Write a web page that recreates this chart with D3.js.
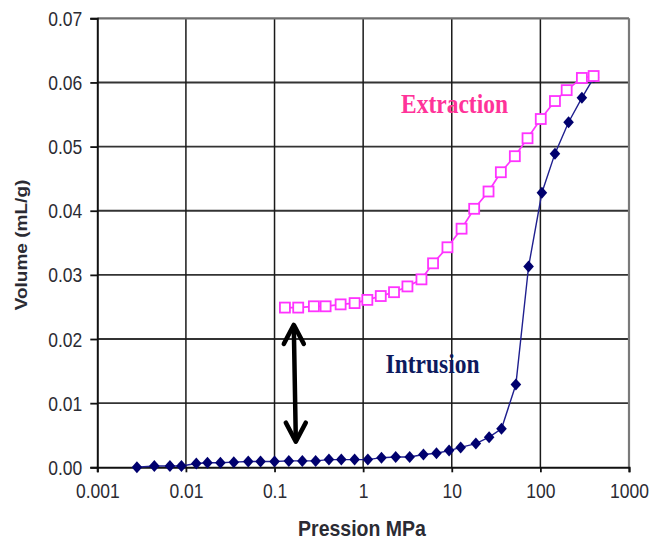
<!DOCTYPE html>
<html>
<head>
<meta charset="utf-8">
<script src="https://cdn.jsdelivr.net/npm/d3@7"></script>
<style>
  html, body { margin: 0; padding: 0; background: #fff; }
  svg { display: block; }
</style>
</head>
<body>
<div id="chart"></div>
<script>
// ---- data ----
const intrusionP = [0.0028, 0.0044, 0.0066, 0.0089, 0.0131, 0.0175, 0.0245, 0.0347, 0.0505, 0.0695,
  0.100, 0.145, 0.206, 0.291, 0.411, 0.567, 0.801, 1.13, 1.61, 2.33,
  3.35, 4.79, 6.72, 9.33, 12.6, 18.7, 26.4, 36.4, 52.9, 73.6,
  104, 146, 208, 294, 402];
const intrusionV = [0.0000, 0.0002, 0.0002, 0.0002, 0.0006, 0.0007, 0.0007, 0.0008, 0.0009, 0.0009,
  0.0009, 0.0010, 0.0010, 0.0010, 0.0012, 0.0012, 0.0012, 0.0012, 0.0015, 0.0016,
  0.0016, 0.0020, 0.0022, 0.0026, 0.0031, 0.0037, 0.0047, 0.0060, 0.0129, 0.0313,
  0.0428, 0.0489, 0.0538, 0.0576, 0.0608];

const extractionP = [0.131, 0.185, 0.278, 0.377, 0.557, 0.801, 1.115, 1.58, 2.23, 3.16,
  4.55, 6.15, 8.94, 12.9, 17.9, 26.0, 35.8, 51.5, 71.6, 101,
  146, 198, 294, 399];
const extractionV = [0.0249, 0.0249, 0.0251, 0.0251, 0.0254, 0.0256, 0.0261, 0.0267, 0.0273, 0.0282,
  0.0293, 0.0318, 0.0343, 0.0372, 0.0403, 0.0430, 0.0460, 0.0485, 0.0513, 0.0543,
  0.0571, 0.0588, 0.0607, 0.0610];

const xTicks = [0.001, 0.01, 0.1, 1, 10, 100, 1000];
const xTickLabels = ["0.001", "0.01", "0.1", "1", "10", "100", "1000"];
const yTicks = [0, 0.01, 0.02, 0.03, 0.04, 0.05, 0.06, 0.07];
const yTickLabels = ["0.00", "0.01", "0.02", "0.03", "0.04", "0.05", "0.06", "0.07"];

const arrowP = 0.165;
const arrowV = [0.0222, 0.0040];

// ---- layout ----
const W = 651, H = 545;
const svg = d3.select("#chart").append("svg").attr("width", W).attr("height", H);
svg.append("rect").attr("width", W).attr("height", H).attr("fill", "#fff");

const x = d3.scaleLog().domain([0.001, 1000]).range([97.3, 629]);
const y = d3.scaleLinear().domain([0, 0.07]).range([467.3, 18.3]);
const SY = 1.12; // vertical stretch of the source picture's text

// grid
const g = svg.append("g");
g.selectAll("line.hg").data(yTicks.slice(1, -1)).enter().append("line")
  .attr("x1", x(0.001)).attr("x2", x(1000))
  .attr("y1", d => y(d)).attr("y2", d => y(d))
  .attr("stroke", "#333").attr("stroke-width", 1.9);
g.selectAll("line.vg").data(xTicks.slice(1, -1)).enter().append("line")
  .attr("y1", y(0.07)).attr("y2", y(0))
  .attr("x1", d => x(d)).attr("x2", d => x(d))
  .attr("stroke", "#1a1a1a").attr("stroke-width", 1.5);
// top & right border (grey)
g.append("line").attr("x1", x(0.001)).attr("x2", x(1000)).attr("y1", y(0.07)).attr("y2", y(0.07))
  .attr("stroke", "#6e6e6e").attr("stroke-width", 2.2);
g.append("line").attr("x1", x(1000)).attr("x2", x(1000)).attr("y1", y(0.07)).attr("y2", y(0))
  .attr("stroke", "#7a7a7a").attr("stroke-width", 2.2);

// axes
const yAxis = d3.axisLeft(y).tickValues(yTicks).tickFormat((d, i) => yTickLabels[i]).tickSize(7).tickPadding(8);
const xAxis = d3.axisBottom(x).tickValues(xTicks).tickFormat((d, i) => xTickLabels[i]).tickSize(5).tickPadding(10);

const ya = svg.append("g").attr("transform", `translate(${x(0.001)},0)`).call(yAxis);
const xa = svg.append("g").attr("transform", `translate(0,${y(0)})`).call(xAxis);
[ya, xa].forEach(a => {
  a.select(".domain").attr("stroke", "#111").attr("stroke-width", 2);
  a.selectAll(".tick line").attr("stroke", "#111").attr("stroke-width", 1.8);
  a.selectAll(".tick text").attr("font-family", "'Liberation Sans', Arial, sans-serif")
    .attr("font-size", 17.5).attr("fill", "#2b2b33");
});
ya.selectAll(".tick text").attr("dy", "0.36em").attr("transform", `scale(1,${SY})`);
xa.selectAll(".tick text").attr("dy", "0.71em").attr("transform", `scale(1,${SY})`);

// axis titles
svg.append("text")
  .attr("transform", `translate(362,536) scale(1,${SY})`)
  .attr("text-anchor", "middle")
  .attr("font-family", "'Liberation Sans', Arial, sans-serif")
  .attr("font-weight", "bold").attr("font-size", 19.5).attr("fill", "#2b2b33")
  .text("Pression MPa");
svg.append("text")
  .attr("transform", `translate(27,245) scale(1,${SY}) rotate(-90)`)
  .attr("text-anchor", "middle")
  .attr("font-family", "'Liberation Sans', Arial, sans-serif")
  .attr("font-weight", "bold").attr("font-size", 17).attr("fill", "#2b2b33")
  .text("Volume (mL/g)");

// series
const intr = intrusionP.map((p, i) => [p, intrusionV[i]]);
const extr = extractionP.map((p, i) => [p, extractionV[i]]);
const line = d3.line().x(d => x(d[0])).y(d => y(d[1]));

svg.append("path").datum(extr).attr("d", line).attr("fill", "none")
  .attr("stroke", "#ff33ff").attr("stroke-width", 1.7);
svg.append("path").datum(intr).attr("d", line).attr("fill", "none")
  .attr("stroke", "#1f1f8f").attr("stroke-width", 1.4);

svg.selectAll("path.dia").data(intr).enter().append("path")
  .attr("transform", d => `translate(${x(d[0])},${y(d[1])})`)
  .attr("d", "M0,-6L5.3,0L0,6L-5.3,0Z")
  .attr("fill", "#00006e");

svg.selectAll("rect.sq").data(extr).enter().append("rect")
  .attr("x", d => x(d[0]) - 5).attr("y", d => y(d[1]) - 5)
  .attr("width", 10).attr("height", 10)
  .attr("fill", "#fff").attr("stroke", "#ff33ff").attr("stroke-width", 1.8);

// labels
svg.append("text")
  .attr("transform", `translate(454.5,113) scale(1,${SY})`)
  .attr("text-anchor", "middle")
  .attr("font-family", "'Liberation Serif', 'Times New Roman', serif")
  .attr("font-weight", "bold").attr("font-size", 23.5).attr("fill", "#ff3399")
  .text("Extraction");
svg.append("text")
  .attr("transform", `translate(432.5,373) scale(1,${SY})`)
  .attr("text-anchor", "middle")
  .attr("font-family", "'Liberation Serif', 'Times New Roman', serif")
  .attr("font-weight", "bold").attr("font-size", 23.5).attr("fill", "#0d1a5e")
  .text("Intrusion");

// double-headed arrow
const ax = x(arrowP), ay1 = y(arrowV[0]), ay2 = y(arrowV[1]);
const aw = 10, ah = 19;
const arrowG = svg.append("g").attr("stroke", "#000").attr("stroke-width", 4.5)
  .attr("fill", "none").attr("stroke-linecap", "round").attr("stroke-linejoin", "round");
arrowG.append("line").attr("x1", ax).attr("x2", ax + 2).attr("y1", ay1 + 2).attr("y2", ay2 - 2);
arrowG.append("path").attr("d", `M${ax - aw},${ay1 + ah}L${ax},${ay1}L${ax + aw},${ay1 + ah}`);
arrowG.append("path").attr("d", `M${ax + 2 - aw},${ay2 - ah}L${ax + 2},${ay2}L${ax + 2 + aw},${ay2 - ah}`);
</script>
</body>
</html>
